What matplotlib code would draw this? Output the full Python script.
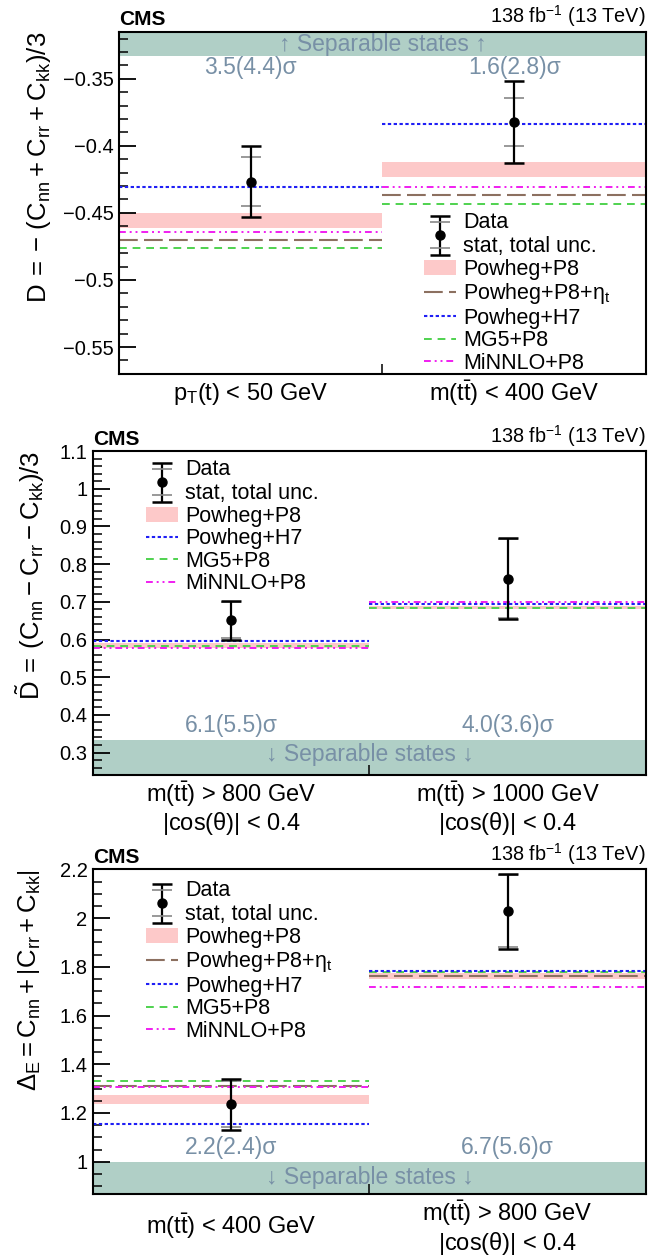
import numpy as np
import matplotlib
matplotlib.use('Agg')
import matplotlib.pyplot as plt
from matplotlib.ticker import MultipleLocator, FuncFormatter
from matplotlib.legend_handler import HandlerErrorbar
from matplotlib.patches import Patch
from matplotlib.lines import Line2D

plt.rcParams['font.family'] = ['Liberation Sans', 'DejaVu Sans']
plt.rcParams['mathtext.fontset'] = 'custom'
plt.rcParams['mathtext.rm'] = 'Liberation Sans'
plt.rcParams['mathtext.it'] = 'Liberation Sans'
plt.rcParams['mathtext.default'] = 'regular'

# ---- data: D
D_bins = [['p$_T$(t) < 50 GeV'], ['m(t$\\bar{t}$) < 400 GeV']]
D_val = [-0.427, -0.382]
D_tot_lo = [-0.453, -0.413]
D_tot_hi = [-0.400, -0.352]
D_stat_lo = [-0.445, -0.400]
D_stat_hi = [-0.408, -0.364]
D_pw_lo = [-0.461, -0.4235]
D_pw_hi = [-0.450, -0.412]
D_eta = [-0.470, -0.4365]
D_h7 = [-0.431, -0.384]
D_mg5 = [-0.4765, -0.443]
D_minnlo = [-0.464, -0.431]
D_sig = ['3.5(4.4)σ', '1.6(2.8)σ']

# ---- data: D tilde
Dt_bins = [['m(t$\\bar{t}$) > 800 GeV', '|cos($\\theta$)| < 0.4'],
           ['m(t$\\bar{t}$) > 1000 GeV', '|cos($\\theta$)| < 0.4']]
Dt_val = [0.651, 0.761]
Dt_tot_lo = [0.600, 0.655]
Dt_tot_hi = [0.702, 0.869]
Dt_stat_lo = [0.603, 0.658]
Dt_stat_hi = [0.699, 0.866]
Dt_pw_lo = [0.578, 0.680]
Dt_pw_hi = [0.590, 0.690]
Dt_h7 = [0.595, 0.693]
Dt_mg5 = [0.584, 0.684]
Dt_minnlo = [0.577, 0.699]
Dt_sig = ['6.1(5.5)σ', '4.0(3.6)σ']

# ---- data: Delta_E
DE_bins = [['m(t$\\bar{t}$) < 400 GeV'],
           ['m(t$\\bar{t}$) > 800 GeV', '|cos($\\theta$)| < 0.4']]
DE_val = [1.237, 2.028]
DE_tot_lo = [1.132, 1.875]
DE_tot_hi = [1.341, 2.181]
DE_stat_lo = [1.143, 1.880]
DE_stat_hi = [1.333, 2.176]
DE_pw_lo = [1.237, 1.751]
DE_pw_hi = [1.272, 1.776]
DE_eta = [1.311, 1.762]
DE_h7 = [1.154, 1.783]
DE_mg5 = [1.330, 1.777]
DE_minnlo = [1.305, 1.718]
DE_sig = ['2.2(2.4)σ', '6.7(5.6)σ']

PINK = '#fdc9c9'
SEPC = '#b0cfc6'
TXTC = '#7890a6'
ETA_C = '#8c7060'
H7_C = '#1f1ff5'
MG_C = '#4fd24f'
MI_C = '#f01ef0'
LS_ETA = (0, (9, 3))
LS_H7 = (0, (1.6, 1.2))
LS_MG = (0, (4, 3))
LS_MI = (0, (3.5, 2, 1, 2, 1, 2))

fig = plt.figure(figsize=(6.67, 12.58), dpi=100)


def fmt(v, pos):
    s = '%g' % round(v, 4)
    return s.replace('-', '\u2212')


def panel(rect, ylim, major, minor, ylabel, ylab_x, bins, lab_y,
          val, tlo, thi, slo, shi, pwlo, pwhi, eta, h7, mg5, minnlo,
          sig, sig_y, thr, sep_up, sep_y, leg_anchor):
    ax = fig.add_axes(rect)
    ax.set_xlim(0, 2)
    ax.set_ylim(*ylim)
    x = np.arange(len(val)) + 0.5

    # separable region
    if sep_up:
        ax.axhspan(thr, ylim[1], color=SEPC, lw=0, zorder=0)
        stxt = '\u2191 Separable states \u2191'
    else:
        ax.axhspan(ylim[0], thr, color=SEPC, lw=0, zorder=0)
        stxt = '\u2193 Separable states \u2193'
    ax.text(1.0, sep_y, stxt, ha='center', va='center', color=TXTC, fontsize=16.5)
    for i in range(len(val)):
        ax.text(x[i], sig_y, sig[i], ha='center', va='center', color=TXTC, fontsize=16.5)

    # predictions
    for i in range(len(val)):
        ax.fill_between([i, i + 1], pwlo[i], pwhi[i], color=PINK, lw=0, zorder=1)
    if eta is not None:
        ax.hlines(eta, x - 0.5, x + 0.5, colors=ETA_C, linestyles=[LS_ETA], lw=1.5, zorder=2)
    ax.hlines(mg5, x - 0.5, x + 0.5, colors=MG_C, linestyles=[LS_MG], lw=1.4, zorder=2)
    ax.hlines(minnlo, x - 0.5, x + 0.5, colors=MI_C, linestyles=[LS_MI], lw=1.4, zorder=2)
    ax.hlines(h7, x - 0.5, x + 0.5, colors=H7_C, linestyles=[LS_H7], lw=1.5, zorder=2)

    # data
    val = np.array(val)
    yerr_t = [val - np.array(tlo), np.array(thi) - val]
    yerr_s = [val - np.array(slo), np.array(shi) - val]
    eb_s = ax.errorbar(x, val, yerr=yerr_s, fmt='none', ecolor='#888888', elinewidth=0,
                       capsize=7, capthick=1.2, zorder=3)
    eb_t = ax.errorbar(x, val, yerr=yerr_t, fmt='o', color='black', ms=6.5,
                       elinewidth=1.6, capsize=7, capthick=1.8, zorder=4)

    # axes style
    ax.yaxis.set_major_locator(MultipleLocator(major))
    ax.yaxis.set_minor_locator(MultipleLocator(minor))
    ax.yaxis.set_major_formatter(FuncFormatter(fmt))
    ax.tick_params(axis='y', which='major', direction='in', length=12, width=1.3,
                   labelsize=14.5, pad=4)
    ax.tick_params(axis='y', which='minor', direction='in', length=6.5, width=1.1)
    ax.set_xticks([1.0])
    ax.set_xticklabels([])
    ax.tick_params(axis='x', which='major', direction='in', length=7, width=1.1)
    for sp in ax.spines.values():
        sp.set_linewidth(1.5)

    for i, lines in enumerate(bins):
        for j, t in enumerate(lines):
            ax.text(x[i], lab_y[len(lines) - 1][j], t, transform=ax.get_xaxis_transform(),
                    ha='center', va='center', fontsize=17)

    ax.text(ylab_x, 1.0, ylabel, transform=ax.transAxes, rotation=90,
            ha='center', va='top', fontsize=18.5)
    ax.text(0.0, 1.008, 'CMS', transform=ax.transAxes, ha='left', va='bottom',
            fontsize=15, fontweight='bold')
    ax.text(1.0, 1.008, '138 fb$^{-1}$ (13 TeV)', transform=ax.transAxes, ha='right',
            va='bottom', fontsize=14.3)

    # legend
    handles = [(eb_t, eb_s), Patch(facecolor=PINK, edgecolor='none')]
    labels = ['Data\nstat, total unc.', 'Powheg+P8']
    if eta is not None:
        handles.append(Line2D([], [], color=ETA_C, ls=LS_ETA, lw=1.5))
        labels.append('Powheg+P8+$\\eta_t$')
    handles += [Line2D([], [], color=H7_C, ls=LS_H7, lw=1.5),
                Line2D([], [], color=MG_C, ls=LS_MG, lw=1.4),
                Line2D([], [], color=MI_C, ls=LS_MI, lw=1.4)]
    labels += ['Powheg+H7', 'MG5+P8', 'MiNNLO+P8']
    ax.legend(handles, labels, loc='upper left', bbox_to_anchor=leg_anchor,
              frameon=False, fontsize=15.5, labelspacing=0.07, handlelength=1.5,
              handletextpad=0.3, borderpad=0, borderaxespad=0,
              handler_map={eb_t: HandlerErrorbar(yerr_size=0.9),
                           eb_s: HandlerErrorbar(yerr_size=0.6)})
    return ax


panel([0.1784, 0.7028, 0.7901, 0.2719], (-0.57, -0.315), 0.05, 0.01,
      r'$D\:=\:-\ (C_{nn}\:+\:C_{rr}\:+\:C_{kk})/3$', -0.152, D_bins,
      {0: [-0.058], 1: [-0.058, -0.15]},
      D_val, D_tot_lo, D_tot_hi, D_stat_lo, D_stat_hi, D_pw_lo, D_pw_hi,
      D_eta, D_h7, D_mg5, D_minnlo, D_sig, -0.3413, -1.0 / 3, True, -0.3243,
      (0.579, 0.473))

panel([0.1394, 0.3838, 0.8291, 0.2576], (0.24, 1.1), 0.1, 0.02,
      r'$\tilde{D}\:=\:(C_{nn}\:-\:C_{rr}\:-\:C_{kk})/3$', -0.114, Dt_bins,
      {0: [-0.058], 1: [-0.058, -0.15]},
      Dt_val, Dt_tot_lo, Dt_tot_hi, Dt_stat_lo, Dt_stat_hi, Dt_pw_lo, Dt_pw_hi,
      None, Dt_h7, Dt_mg5, Dt_minnlo, Dt_sig, 0.371, 1.0 / 3, False, 0.296,
      (0.096, 0.975))

panel([0.1394, 0.0510, 0.8291, 0.2579], (0.868, 2.2), 0.2, 0.05,
      r'$\Delta_{E} = C_{nn} + \left|C_{rr} + C_{kk}\right|$', -0.114, DE_bins,
      {0: [-0.10], 1: [-0.06, -0.152]},
      DE_val, DE_tot_lo, DE_tot_hi, DE_stat_lo, DE_stat_hi, DE_pw_lo, DE_pw_hi,
      DE_eta, DE_h7, DE_mg5, DE_minnlo, DE_sig, 1.06, 1.0, False, 0.934,
      (0.096, 0.967))

fig.savefig('out.png', dpi=100)
